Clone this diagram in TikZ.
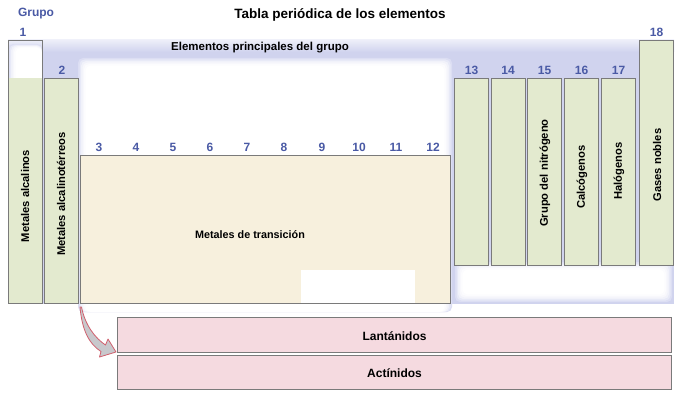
\documentclass[tikz,border=0pt]{standalone}
\usepackage{fontspec}
\setmainfont{Liberation Sans}
\usetikzlibrary{calc}
\definecolor{lav}{HTML}{C4C8EA}
\definecolor{grn}{HTML}{E3EACF}
\definecolor{bei}{HTML}{F7F0DD}
\definecolor{pnk}{HTML}{F5DAE0}
\definecolor{edgec}{HTML}{7A7A7A}
\definecolor{numc}{HTML}{4A5AA5}
\definecolor{arrred}{HTML}{D0606E}
\definecolor{arrgray}{HTML}{C8C8CC}
\begin{document}
\begin{tikzpicture}[x=1pt,y=-1pt,
  box/.style={draw=edgec,line width=1pt,anchor=north west,inner sep=0pt,minimum width=34pt},
  colbox/.style={box,fill=grn},
  numlbl/.style={text=numc,font=\bfseries\fontsize{12}{12}\selectfont,inner sep=0pt},
  txt/.style={font=\bfseries\fontsize{11.5}{12}\selectfont,inner sep=0pt},
  vtxt/.style={font=\bfseries\fontsize{11.2}{12}\selectfont,inner sep=0pt,rotate=90}]
\useasboundingbox (0,0) rectangle (682,404);
\fill[white] (0,0) rectangle (682,404);
% lavender frame of the main groups
\fill[lav!80] (8,40) rectangle (674,304);
\shade[top color=lav!30, bottom color=lav!80] (8,40) rectangle (674,52);
\foreach \i/\p in {0/60,1.5/40,3/24,4.5/12,6/5,7.5/0}{
  \fill[lav!\p, rounded corners=5pt] (78+\i,58+\i) rectangle (452-\i,312);
  \fill[lav!\p, rounded corners=5pt] (455+\i,262+\i) rectangle (672-\i,302-\i);
  \fill[lav!\p, rounded corners=5pt] (8+\i,44+0.5*\i) rectangle (42,90);
}
% titles
\node[font=\bfseries\fontsize{13.5}{14}\selectfont,inner sep=0pt] (title) at (340,15) {Tabla periódica de los elementos};
\node[numlbl] (grupo) at (36,14) {Grupo};
\node[txt] (principal) at (260,48) {Elementos principales del grupo};
% group 1 and 2
\fill[grn] (8,78) rectangle (42,303);
\node[box,minimum height=263pt] (c1) at (8,40) {};
\node[colbox,minimum height=225pt] (c2) at (44,78) {};
\node[numlbl] (n1) at (23,32) {1};
\node[numlbl] (n2) at (62,70) {2};
\node[vtxt] (l1) at (25,196) {Metales alcalinos};
\node[vtxt] (l2) at (61,194) {Metales alcalinotérreos};
% transition metals
\node[box,fill=bei,minimum width=370pt,minimum height=148pt] (tr) at (80,155) {};
\fill[white] (301,270) rectangle (415,302.5);
\node[font=\bfseries\fontsize{10.8}{12}\selectfont,inner sep=0pt] (ltr) at (250,235) {Metales de transición};
\foreach \n/\x in {3/99,4/136,5/173,6/210,7/247,8/284,9/322,10/359,11/396,12/433}{
  \node[numlbl] (n\n) at (\x,147) {\n};
}
% groups 13-18
\foreach \n/\x in {13/454,14/490.5,15/527,16/564,17/601}{
  \node[colbox,minimum height=187pt] (c\n) at (\x,78) {};
  \node[numlbl] (n\n) at ($(c\n.north)+(0,-8)$) {\n};
}
\node[colbox,minimum height=225pt] (c18) at (639,40) {};
\node[numlbl] (n18) at ($(c18.north)+(0,-8)$) {18};
\node[vtxt] (l15) at (545,173) {Grupo del nitrógeno};
\node[vtxt] (l16) at (582,177) {Calcógenos};
\node[vtxt] (l17) at (619,171) {Halógenos};
\node[vtxt] (l18) at (657,165) {Gases nobles};
% lanthanides and actinides
\node[box,fill=pnk,minimum width=554pt,minimum height=35pt] (lan) at (117,317) {};
\node[box,fill=pnk,minimum width=554pt,minimum height=34pt] (act) at (117,355) {};
\node[font=\bfseries\fontsize{12}{12}\selectfont,inner sep=0pt] (llan) at ($(lan.center)+(0,1)$) {Lantánidos};
\node[font=\bfseries\fontsize{12}{12}\selectfont,inner sep=0pt] (lact) at ($(act.center)+(0,1)$) {Actínidos};
% curved arrow
\coordinate (as) at ($(tr.south west)+(0,3)$);
\coordinate (at) at ($(lan.south west)+(-1,-1)$);
\filldraw[draw=arrred,fill=arrgray,line width=0.8pt,line join=round]
  (as) .. controls (82,330) and (89,344) .. (101,351.5)
  -- (99.5,357) -- (at) -- (108,339) -- (105.5,345)
  .. controls (95,338) and (85,325) .. ($(as)+(1.5,0)$) -- cycle;
\end{tikzpicture}
\end{document}
